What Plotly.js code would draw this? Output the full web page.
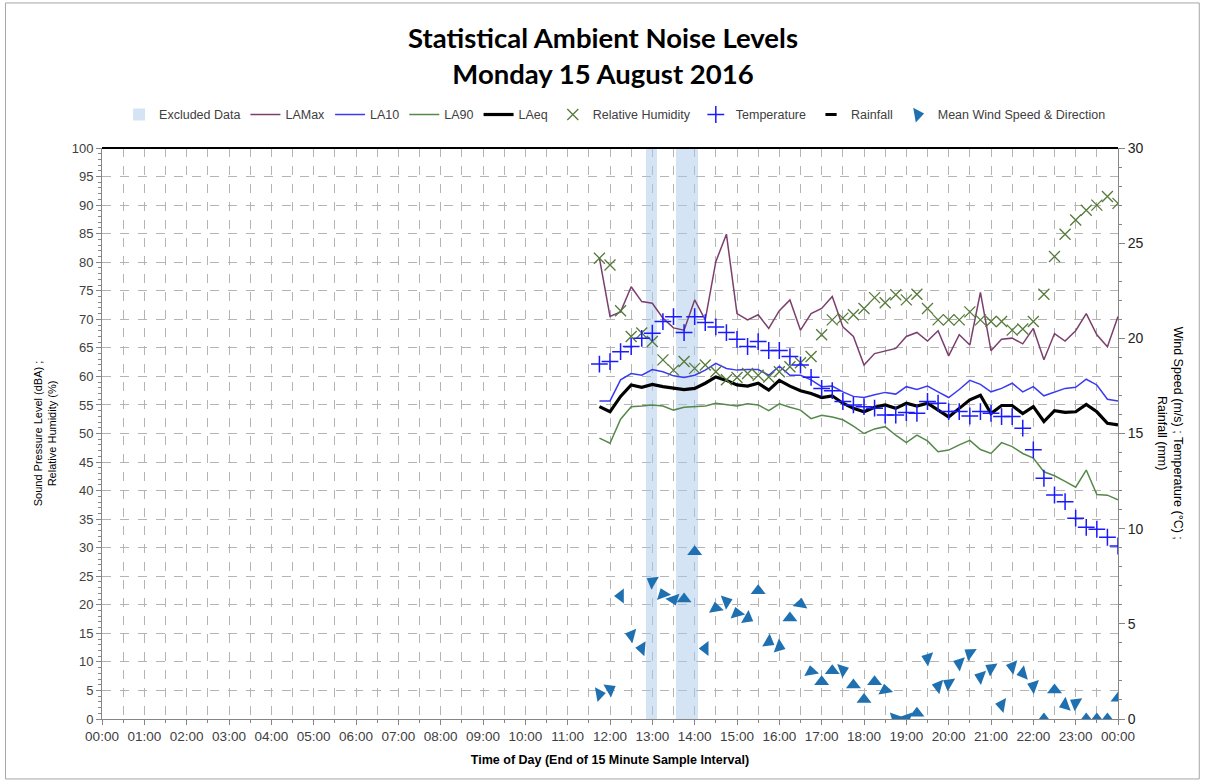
<!DOCTYPE html>
<html><head><meta charset="utf-8">
<script src="https://cdn.plot.ly/plotly-3.0.1.min.js"></script>
<style>html,body{margin:0;padding:0;background:#fff;}#chart{width:1206px;height:784px;}</style>
</head><body><div id="chart"></div>
<script>
// ---- Data (15-minute samples, end of interval) ----
const times = ["11:45","12:00","12:15","12:30","12:45","13:00","13:15","13:30","13:45","14:00",
  "14:15","14:30","14:45","15:00","15:15","15:30","15:45","16:00","16:15","16:30",
  "16:45","17:00","17:15","17:30","17:45","18:00","18:15","18:30","18:45","19:00",
  "19:15","19:30","19:45","20:00","20:15","20:30","20:45","21:00","21:15","21:30",
  "21:45","22:00","22:15","22:30","22:45","23:00","23:15","23:30","23:45","24:00"];

const laMax = [80.7,70.5,71.3,75.7,73.1,72.8,70.2,68.5,68.1,73.4,
  69.9,80.1,84.9,71.0,69.9,70.8,68.4,71.5,73.4,68.1,
  71.0,71.9,74.0,68.7,67.0,62.0,64.0,64.5,64.9,67.0,
  67.7,66.2,68.0,63.6,67.3,65.5,74.7,64.5,66.5,66.7,
  65.7,68.4,62.9,67.5,66.2,68.0,71.0,67.3,65.2,70.5];

const la10 = [55.7,55.7,59.4,60.5,60.2,61.2,60.8,60.1,59.8,60.2,
  61.1,62.3,61.4,61.1,61.2,61.2,60.2,61.8,60.2,60.2,
  59.4,58.2,58.3,57.3,56.5,56.3,56.8,57.2,56.9,58.2,
  57.7,58.3,57.3,56.3,57.7,59.3,58.6,57.3,57.9,58.8,
  57.3,58.2,56.6,57.3,57.9,58.1,59.5,58.5,56.0,55.7];

const la90 = [49.2,48.3,52.5,54.7,54.8,55.0,54.8,54.1,54.6,54.7,
  54.8,55.3,55.0,54.8,55.2,55.0,54.0,55.2,54.6,54.1,
  52.6,53.2,52.9,52.4,51.3,50.0,50.8,51.2,49.7,48.4,
  49.7,48.7,46.8,47.1,48.0,48.8,47.2,46.5,48.4,47.7,
  46.5,45.7,43.3,42.6,41.6,40.6,43.6,39.3,39.2,38.4];

const laEq = [54.7,53.8,56.5,58.5,58.1,58.6,58.2,57.9,57.7,57.9,
  58.8,59.9,59.3,58.5,58.3,58.8,57.6,59.3,58.3,57.5,
  57.0,56.3,56.6,55.3,54.4,53.8,54.6,55.0,54.4,55.3,
  54.8,55.3,54.1,52.9,54.4,55.9,56.7,53.5,54.9,54.9,
  53.5,54.7,52.1,54.0,53.7,53.8,55.1,53.8,51.8,51.5];

const relHumidity = [80.7,79.5,71.5,67.0,67.6,66.1,62.9,61.1,62.6,61.4,
  62.0,60.8,59.4,59.8,60.5,60.2,59.9,60.8,61.7,62.4,
  63.5,67.3,69.9,70.2,70.8,71.9,73.8,72.9,74.3,73.4,
  74.4,71.9,69.9,69.9,69.9,71.3,69.9,69.6,69.6,68.1,
  68.3,69.6,74.4,81.0,84.9,87.4,89.1,90.0,91.5,90.3];

const temperature = [18.65,18.78,19.3,19.57,20.0,20.27,20.88,21.14,20.3,21.14,
  20.83,20.6,20.3,19.95,19.57,19.83,19.36,19.36,19.04,18.6,
  17.95,17.37,17.25,16.68,16.5,16.41,16.33,15.97,15.97,16.1,
  16.06,16.68,16.59,16.15,16.15,15.92,16.15,16.06,15.89,15.89,
  15.28,14.14,12.65,11.77,11.42,10.55,10.07,9.97,9.55,9.09];

const windSpeed = [1.31,1.56,6.46,4.41,3.71,7.22,6.55,6.29,6.3,8.79,
  3.71,5.82,6.17,5.55,5.3,6.74,4.06,3.8,5.3,6.04,
  2.49,1.96,2.54,2.58,1.79,1.03,1.96,1.52,0.05,0.05,
  0.3,3.19,1.73,1.87,2.93,3.45,2.22,2.66,0.74,2.75,
  2.4,1.73,0.0,1.52,0.74,0.84,0.0,0.0,0.0,1.09];

// direction the arrow points, degrees clockwise from north
const windDirection = [80,60,270,285,275,300,340,160,0,0,
  270,350,70,345,120,0,120,110,0,10,
  350,0,0,70,0,0,0,350,200,160,
  0,290,285,300,290,305,290,300,280,285,
  255,290,0,0,250,300,0,0,0,0];

// no rainfall recorded
const rainfallTimes = ["11:45"];
const rainfall = [null];

const excludedStart = ["12:51","13:33"];
const excludedEnd   = ["13:06","14:04"];
const excludedLevel = [100,100];

const axisEnds = ["00:00","24:00"];

// ---- helpers ----
function toMin(hm){ const p = hm.split(':').map(Number); return p[0]*60+p[1]; }
function minToDate(mins){
  let day = 15; let h = Math.floor(mins/60); let m = Math.round(mins - h*60);
  if (h >= 24) { h -= 24; day = 16; }
  return '2016-08-' + day + ' ' + String(h).padStart(2,'0') + ':' + String(m).padStart(2,'0');
}
function toDate(hm){ return minToDate(toMin(hm)); }

const x = times.map(toDate);
const exCenters = excludedStart.map((s,i)=> minToDate((toMin(s)+toMin(excludedEnd[i]))/2));
const exWidths = excludedStart.map((s,i)=> (toMin(excludedEnd[i])-toMin(s))*60000);

const axisGrey = '#868686';
const gridGrey = '#b4b4b4';
const textGrey = '#404040';

const traces = [
  {type:'bar', name:'Excluded Data', x:exCenters, y:excludedLevel, width:exWidths, base:0,
   marker:{color:'rgba(170,202,236,0.5)', line:{width:0}}, yaxis:'y', hoverinfo:'skip'},
  {type:'scatter', mode:'lines', name:'LAMax', x:x, y:laMax, line:{color:'#7b3f6e', width:1.5}},
  {type:'scatter', mode:'lines', name:'LA10', x:x, y:la10, line:{color:'#3a3af2', width:1.5}},
  {type:'scatter', mode:'lines', name:'LA90', x:x, y:la90, line:{color:'#55884a', width:1.5}},
  {type:'scatter', mode:'lines', name:'LAeq', x:x, y:laEq, line:{color:'#000000', width:3.2}},
  {type:'scatter', mode:'markers', name:'Relative Humidity', x:x, y:relHumidity,
   marker:{symbol:'x-thin-open', size:11, color:'#557a3a', line:{color:'#557a3a', width:1.3}}},
  {type:'scatter', mode:'markers', name:'Temperature', x:x, y:temperature, yaxis:'y2',
   marker:{symbol:'cross-thin-open', size:12, color:'#1a1aff', line:{color:'#1a1aff', width:1.5}}},
  {type:'scatter', mode:'markers', name:'Rainfall', x:rainfallTimes.map(toDate), y:rainfall, yaxis:'y2',
   marker:{symbol:'line-ew-open', size:8, color:'#000', line:{color:'#000', width:3}}},
  {type:'scatter', mode:'markers', name:'Mean Wind Speed & Direction', x:x, y:windSpeed, yaxis:'y2',
   marker:{symbol:'triangle-up', size:13, angle:windDirection, color:'#1f70b0', line:{width:0}}}
];

const layout = {
  width:1206, height:784,
  paper_bgcolor:'#ffffff', plot_bgcolor:'#ffffff',
  margin:{l:102, r:88, t:148, b:65},
  font:{family:'Liberation Sans, Arial, sans-serif', color:textGrey},
  title:{text:'Statistical Ambient Noise Levels<br>Monday 15 August 2016',
    font:{family:'Lato, Liberation Sans, sans-serif', size:27.5, color:'#000', weight:'bold'},
    x:0.5, xref:'container', xanchor:'center', y:0.939, yref:'container', yanchor:'middle'},
  showlegend:true,
  legend:{orientation:'h', x:0.505, xanchor:'center', y:1.058, yanchor:'middle',
    font:{family:'Liberation Sans, Arial, sans-serif', size:12.5, color:textGrey},
    itemwidth:30, traceorder:'normal', bgcolor:'rgba(0,0,0,0)'},
  bargap:0,
  xaxis:{type:'date', range:axisEnds.map(toDate), tick0:toDate('00:00'), dtick:3600000,
    tickformat:'%H:%M', ticks:'outside', ticklen:5, tickcolor:axisGrey,
    showline:true, linecolor:axisGrey, linewidth:1, zeroline:false,
    showgrid:true, gridcolor:gridGrey, griddash:'dash', gridwidth:1,
    minor:{dtick:1800000, showgrid:true, gridcolor:gridGrey, griddash:'dash', gridwidth:1,
      ticks:'outside', ticklen:3, tickcolor:axisGrey},
    tickfont:{size:13.5, color:textGrey},
    title:{text:'Time of Day (End of 15 Minute Sample Interval)',
      font:{size:12.5, color:'#000', weight:'bold'}, standoff:12}},
  yaxis:{range:[0,100], dtick:5, tick0:0, ticks:'outside', ticklen:5, tickcolor:axisGrey,
    showline:true, linecolor:axisGrey, zeroline:false,
    showgrid:true, gridcolor:gridGrey, griddash:'dash', gridwidth:1,
    minor:{dtick:1, ticks:'outside', ticklen:3, tickcolor:axisGrey, showgrid:false},
    tickfont:{size:13, color:textGrey},
    title:{text:'Sound Pressure Level (dBA) ;<br>Relative Humidity (%)',
      font:{size:11, color:'#000'}, standoff:12}},
  yaxis2:{overlaying:'y', side:'right', range:[0,30], dtick:5, tick0:0,
    ticks:'outside', ticklen:6, tickcolor:axisGrey, showline:true, linecolor:axisGrey,
    zeroline:false, showgrid:false,
    minor:{dtick:1, ticks:'outside', ticklen:3, tickcolor:axisGrey, showgrid:false},
    tickfont:{size:14, color:'#222'}},
  shapes:[
    {type:'line', xref:'paper', yref:'paper', x0:0, x1:1, y0:1, y1:1, line:{color:'#000', width:2}},
    {type:'rect', xref:'paper', yref:'paper', x0:-0.095, x1:1.080, y0:-0.105, y1:1.254,
     line:{color:'#a6a6a6', width:1}, fillcolor:'rgba(0,0,0,0)', layer:'below'}
  ],
  annotations:[
    {text:'Wind Speed (m/s) ; Temperature (°C) ;<br>Rainfall (mm)', xref:'paper', yref:'paper',
     x:1.052, y:0.50, xanchor:'center', yanchor:'middle', textangle:90, showarrow:false,
     font:{size:12.5, color:'#000'}}
  ]
};

Plotly.newPlot('chart', traces, layout, {staticPlot:true, displayModeBar:false});
</script>
</body></html>
